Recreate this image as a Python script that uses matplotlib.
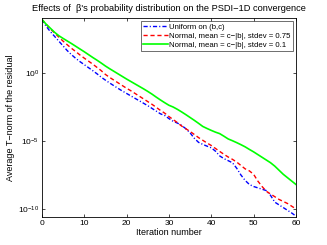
import numpy as np
import matplotlib

matplotlib.use("Agg")
import matplotlib.pyplot as plt
from matplotlib.ticker import FixedLocator, NullLocator

plt.rcParams["font.family"] = ["Liberation Sans", "DejaVu Sans"]
plt.rcParams["mathtext.fontset"] = "custom"
plt.rcParams["mathtext.rm"] = "Liberation Sans"
plt.rcParams["mathtext.it"] = "Liberation Sans:italic"

# log10 of the average residual norm, iterations 0..60
iters = list(range(61))
uniform_log = [
    3.95, 3.45, 3.05, 2.70, 2.35, 2.00, 1.65, 1.35, 1.08, 0.84,
    0.62, 0.40, 0.18, -0.05, -0.30, -0.52, -0.73, -0.93, -1.13, -1.32,
    -1.50, -1.68, -1.86, -2.04, -2.22, -2.40, -2.60, -2.80, -3.00, -3.12,
    -3.35, -3.55, -3.68, -3.85, -4.10, -4.40, -4.80, -5.10, -5.25, -5.38,
    -5.50, -5.75, -6.10, -6.30, -6.45, -6.60, -7.00, -7.50, -7.90, -8.20,
    -8.35, -8.45, -8.55, -8.65, -9.00, -9.50, -9.70, -9.90, -10.10, -10.30,
    -10.53,
]
normal_075_log = [
    3.95, 3.60, 3.25, 2.95, 2.65, 2.35, 2.08, 1.82, 1.58, 1.33,
    1.10, 0.88, 0.66, 0.42, 0.18, -0.10, -0.32, -0.52, -0.72, -0.92,
    -1.12, -1.30, -1.50, -1.70, -1.90, -2.10, -2.30, -2.52, -2.75, -2.95,
    -3.20, -3.42, -3.65, -3.90, -4.10, -4.30, -4.52, -4.75, -4.95, -5.15,
    -5.33, -5.55, -5.77, -5.98, -6.18, -6.35, -6.55, -6.80, -7.05, -7.20,
    -7.45, -7.95, -8.35, -8.70, -8.90, -9.10, -9.30, -9.45, -9.60, -9.80,
    -10.00,
]
normal_01_log = [
    3.95, 3.60, 3.30, 3.00, 2.75, 2.55, 2.36, 2.17, 1.97, 1.77,
    1.57, 1.36, 1.15, 0.95, 0.74, 0.52, 0.32, 0.13, -0.06, -0.25,
    -0.44, -0.62, -0.80, -0.98, -1.16, -1.35, -1.55, -1.77, -1.98, -2.18,
    -2.37, -2.50, -2.67, -2.86, -3.06, -3.27, -3.48, -3.70, -3.93, -4.08,
    -4.22, -4.35, -4.46, -4.65, -4.85, -4.98, -5.12, -5.27, -5.43, -5.62,
    -5.80, -6.00, -6.20, -6.40, -6.60, -6.85, -7.15, -7.45, -7.70, -7.95,
    -8.20,
]
labels = [
    "Uniform on (b,c)",
    "Normal, mean = c\u2212|b|, stdev = 0.75",
    "Normal, mean = c\u2212|b|, stdev = 0.1",
]
x_ticks = [0, 10, 20, 30, 40, 50, 60]
y_ticks = [1e0, 1e-5, 1e-10]
y_tick_labels = ["$10^{0}$", "$10^{-5}$", "$10^{-10}$"]

fig = plt.figure(figsize=(3.27, 2.45), dpi=100)
ax = fig.add_axes([0.128, 0.114, 0.777, 0.813])

x = np.array(iters)
ax.semilogy(x, 10 ** np.array(uniform_log), color="#0000ff", linestyle="-.",
            linewidth=1.0, label=labels[0], dashes=(3, 1.5, 0.8, 1.5))
ax.semilogy(x, 10 ** np.array(normal_075_log), color="#ff0000", linestyle="--",
            linewidth=1.0, label=labels[1], dashes=(3, 2))
ax.semilogy(x, 10 ** np.array(normal_01_log), color="#00ff00", linestyle="-",
            linewidth=1.2, label=labels[2])

ax.set_xlim(0, 60)
ax.set_ylim(10 ** -10.6, 10 ** 4.06)
ax.xaxis.set_major_locator(FixedLocator(x_ticks))
ax.yaxis.set_major_locator(FixedLocator(y_ticks))
ax.yaxis.set_minor_locator(NullLocator())
ax.set_yticklabels(y_tick_labels)
ax.tick_params(direction="in", length=2.5, width=0.5, labelsize=6,
               top=True, right=True, pad=2)
for s in ax.spines.values():
    s.set_linewidth(0.6)

ax.set_xlabel("Iteration number", fontsize=6.5, labelpad=1)
ax.set_ylabel("Average T\u2212norm of the residual", fontsize=6.5, labelpad=2)
ax.set_title("Effects of  \u03b2's probability distribution on the PSDI\u22121D convergence",
             fontsize=6.7, pad=5)

leg = ax.legend(loc="upper right", fontsize=5.6, frameon=True, fancybox=False,
                borderpad=0.3, labelspacing=0.2, handlelength=3.2,
                handletextpad=0.1, borderaxespad=0.4, bbox_to_anchor=(1.0, 1.0))
leg.get_frame().set_edgecolor("black")
leg.get_frame().set_linewidth(0.5)

fig.savefig("out.png", dpi=100)
